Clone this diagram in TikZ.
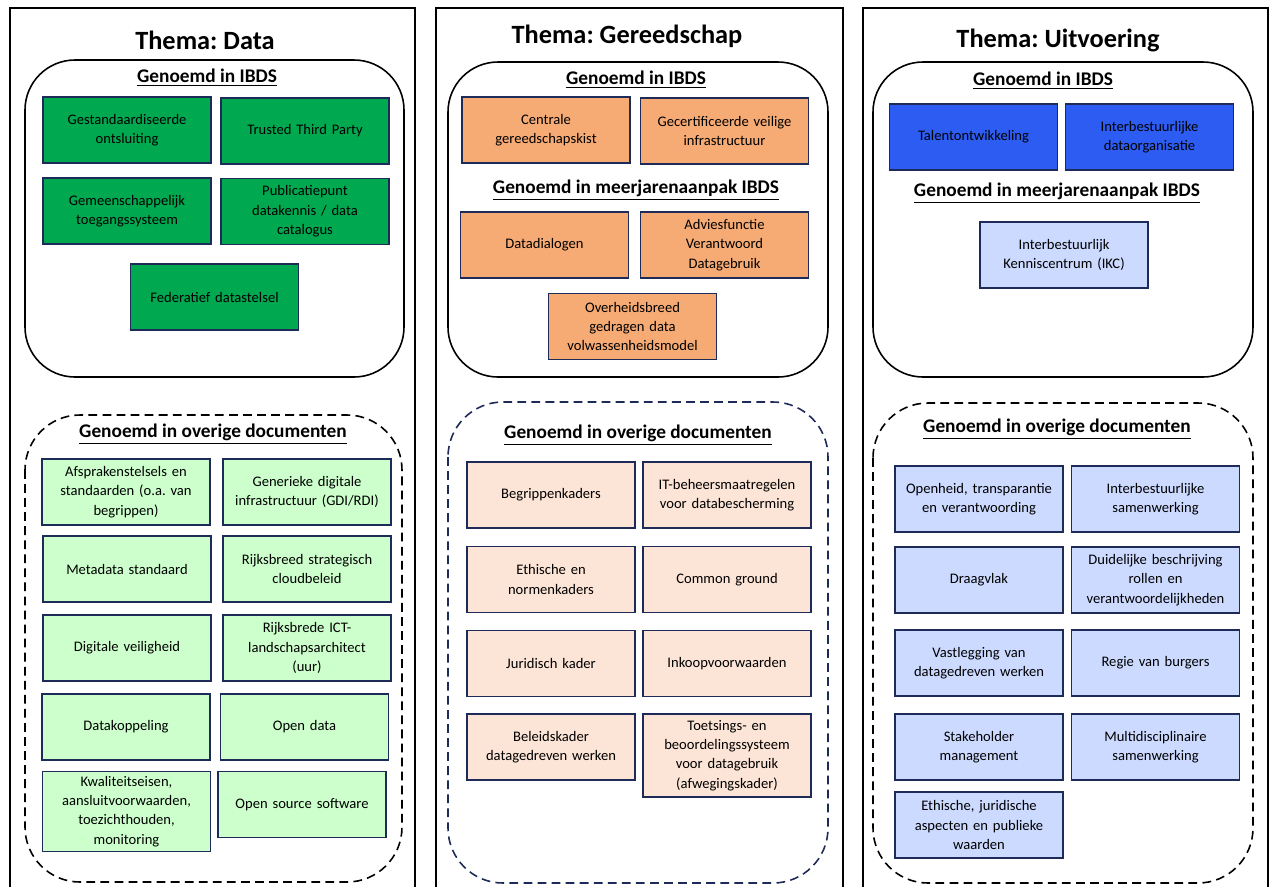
\documentclass[tikz,border=0pt]{standalone}
\usepackage{fontspec}
\setmainfont{Carlito}
\usepackage{xcolor}
\usetikzlibrary{positioning}
\frenchspacing

\definecolor{groen}{RGB}{0,168,80}
\definecolor{lichtgroen}{RGB}{204,255,204}
\definecolor{oranje}{RGB}{246,170,116}
\definecolor{perzik}{RGB}{252,228,214}
\definecolor{blauw}{RGB}{44,92,242}
\definecolor{lichtblauw}{RGB}{204,218,255}
\definecolor{marine}{RGB}{30,42,88}

\tikzset{
  paneel/.style={line width=1.2pt, black},
  kader/.style={line width=0.9pt, black, rounded corners=1cm},
  stippel/.style={line width=0.9pt, dash pattern=on 5pt off 3pt, rounded corners=1.1cm},
  titel/.style={font=\fontsize{15}{18}\selectfont\bfseries},
  kop/.style={font=\fontsize{11}{13}\selectfont\bfseries},
  vak/.style={draw=marine, line width=1.1pt, minimum width=3.36cm, minimum height=1.32cm,
    text width=3.2cm, align=center, inner sep=0pt, font=\fontsize{8.3}{11}\selectfont}
}

\begin{document}
\begin{tikzpicture}[x=0.02cm, y=-0.02cm]
    \useasboundingbox (0,0) rectangle (1272,887);

    % Thema: Data
    \draw[paneel] (10,887) -- (10,8) -- (415,8) -- (415,887);
    \node[titel] (titelData) at (205,40) {Thema: Data};
    \draw[kader] (25,60) rectangle (404,377);
    \node[kop] (kopData) at (207,78) {\underline{Genoemd in IBDS}};
    \node[vak, fill=groen] (d1) at (127,130) {Gestandaardiseerde\\ontsluiting};
    \node[vak, fill=groen] (d2) at (305,131) {Trusted Third Party};
    \node[vak, fill=groen] (d3) at (127,211) {Gemeenschappelijk\\toegangssysteem};
    \node[vak, fill=groen] (d4) at (305,211.5) {Publicatiepunt\\datakennis / data\\catalogus};
    \node[vak, fill=groen] (d5) at (214.5,297) {Federatief datastelsel};

    % overige documenten (Data)
    \draw[stippel, black] (25,415) rectangle (402,882);
    \node[kop] (overigData) at (213,434) {\underline{Genoemd in overige documenten}};
    \node[vak, fill=lichtgroen] (od1) at (126,492) {Afsprakenstelsels en\\standaarden (o.a. van\\begrippen)};
    \node[vak, fill=lichtgroen] (od2) at (307,492) {Generieke digitale\\infrastructuur (GDI/RDI)};
    \node[vak, fill=lichtgroen] (od3) at (127,569) {Metadata standaard};
    \node[vak, fill=lichtgroen] (od4) at (307,569) {Rijksbreed strategisch\\cloudbeleid};
    \node[vak, fill=lichtgroen] (od5) at (127,648) {Digitale veiligheid};
    \node[vak, fill=lichtgroen] (od6) at (307,648) {Rijksbrede ICT-\\landschapsarchitect\\(uur)};
    \node[vak, fill=lichtgroen] (od7) at (126,727) {Datakoppeling};
    \node[vak, fill=lichtgroen] (od8) at (304.5,727) {Open data};
    \node[vak, fill=lichtgroen, minimum height=1.6cm] (od9) at (126.5,811.5) {Kwaliteitseisen,\\aansluitvoorwaarden,\\toezichthouden,\\monitoring};
    \node[vak, fill=lichtgroen] (od10) at (302,804.5) {Open source software};

    % Thema: Gereedschap
    \draw[paneel] (436,887) -- (436,8) -- (843,8) -- (843,887);
    \node[titel] (titelGereedschap) at (627,36) {Thema: Gereedschap};
    \draw[kader] (448,62) rectangle (828,377);
    \node[kop] (kopGereedschap) at (636,80) {\underline{Genoemd in IBDS}};
    \node[vak, fill=oranje] (g1) at (546,130) {Centrale\\gereedschapskist};
    \node[vak, fill=oranje] (g2) at (724.5,131) {Gecertificeerde veilige\\infrastructuur};
    \node[kop] (meerjarenGereedschap) at (636,190) {\underline{Genoemd in meerjarenaanpak IBDS}};
    \node[vak, fill=oranje] (g3) at (544.5,245) {Datadialogen};
    \node[vak, fill=oranje] (g4) at (724.5,245) {Adviesfunctie\\Verantwoord\\Datagebruik};
    \node[vak, fill=oranje] (g5) at (632.5,326.5) {Overheidsbreed\\gedragen data\\volwassenheidsmodel};

    % overige documenten (Gereedschap)
    \draw[stippel, marine] (448,402) rectangle (828,883);
    \node[kop] (overigGereedschap) at (638,435) {\underline{Genoemd in overige documenten}};
    \node[vak, fill=perzik] (og1) at (551,495) {Begrippenkaders};
    \node[vak, fill=perzik] (og2) at (727,495) {IT-beheersmaatregelen\\voor databescherming};
    \node[vak, fill=perzik] (og3) at (551,579.5) {Ethische en\\normenkaders};
    \node[vak, fill=perzik] (og4) at (727,579.5) {Common ground};
    \node[vak, fill=perzik] (og5) at (551,663.5) {Juridisch kader};
    \node[vak, fill=perzik] (og6) at (727,663.5) {Inkoopvoorwaarden};
    \node[vak, fill=perzik] (og7) at (551,747) {Beleidskader\\datagedreven werken};
    \node[vak, fill=perzik, minimum height=1.66cm] (og8) at (727,755.5) {Toetsings- en\\beoordelingssysteem\\voor datagebruik\\(afwegingskader)};

    % Thema: Uitvoering
    \draw[paneel] (863,887) -- (863,8) -- (1268,8) -- (1268,887);
    \node[titel] (titelUitvoering) at (1058,40) {Thema: Uitvoering};
    \draw[kader] (873,62) rectangle (1253,377);
    \node[kop] (kopUitvoering) at (1043,81) {\underline{Genoemd in IBDS}};
    \node[vak, fill=blauw] (u1) at (973.5,137) {Talentontwikkeling};
    \node[vak, fill=blauw] (u2) at (1149.5,137) {Interbestuurlijke\\dataorganisatie};
    \node[kop] (meerjarenUitvoering) at (1057,193) {\underline{Genoemd in meerjarenaanpak IBDS}};
    \node[vak, fill=lichtblauw] (u3) at (1064,255) {Interbestuurlijk\\Kenniscentrum (IKC)};

    % overige documenten (Uitvoering)
    \draw[stippel, black] (873,403) rectangle (1253,883);
    \node[kop] (overigUitvoering) at (1057,429) {\underline{Genoemd in overige documenten}};
    \node[vak, fill=lichtblauw] (ou1) at (979,499) {Openheid, transparantie\\en verantwoording};
    \node[vak, fill=lichtblauw] (ou2) at (1155.5,499) {Interbestuurlijke\\samenwerking};
    \node[vak, fill=lichtblauw] (ou3) at (979,580) {Draagvlak};
    \node[vak, fill=lichtblauw] (ou4) at (1155.5,580) {Duidelijke beschrijving\\rollen en\\verantwoordelijkheden};
    \node[vak, fill=lichtblauw] (ou5) at (979,663) {Vastlegging van\\datagedreven werken};
    \node[vak, fill=lichtblauw] (ou6) at (1155.5,663) {Regie van burgers};
    \node[vak, fill=lichtblauw] (ou7) at (979,747) {Stakeholder\\management};
    \node[vak, fill=lichtblauw] (ou8) at (1155.5,747) {Multidisciplinaire\\samenwerking};
    \node[vak, fill=lichtblauw] (ou9) at (979,825) {Ethische, juridische\\aspecten en publieke\\waarden};
\end{tikzpicture}
\end{document}
